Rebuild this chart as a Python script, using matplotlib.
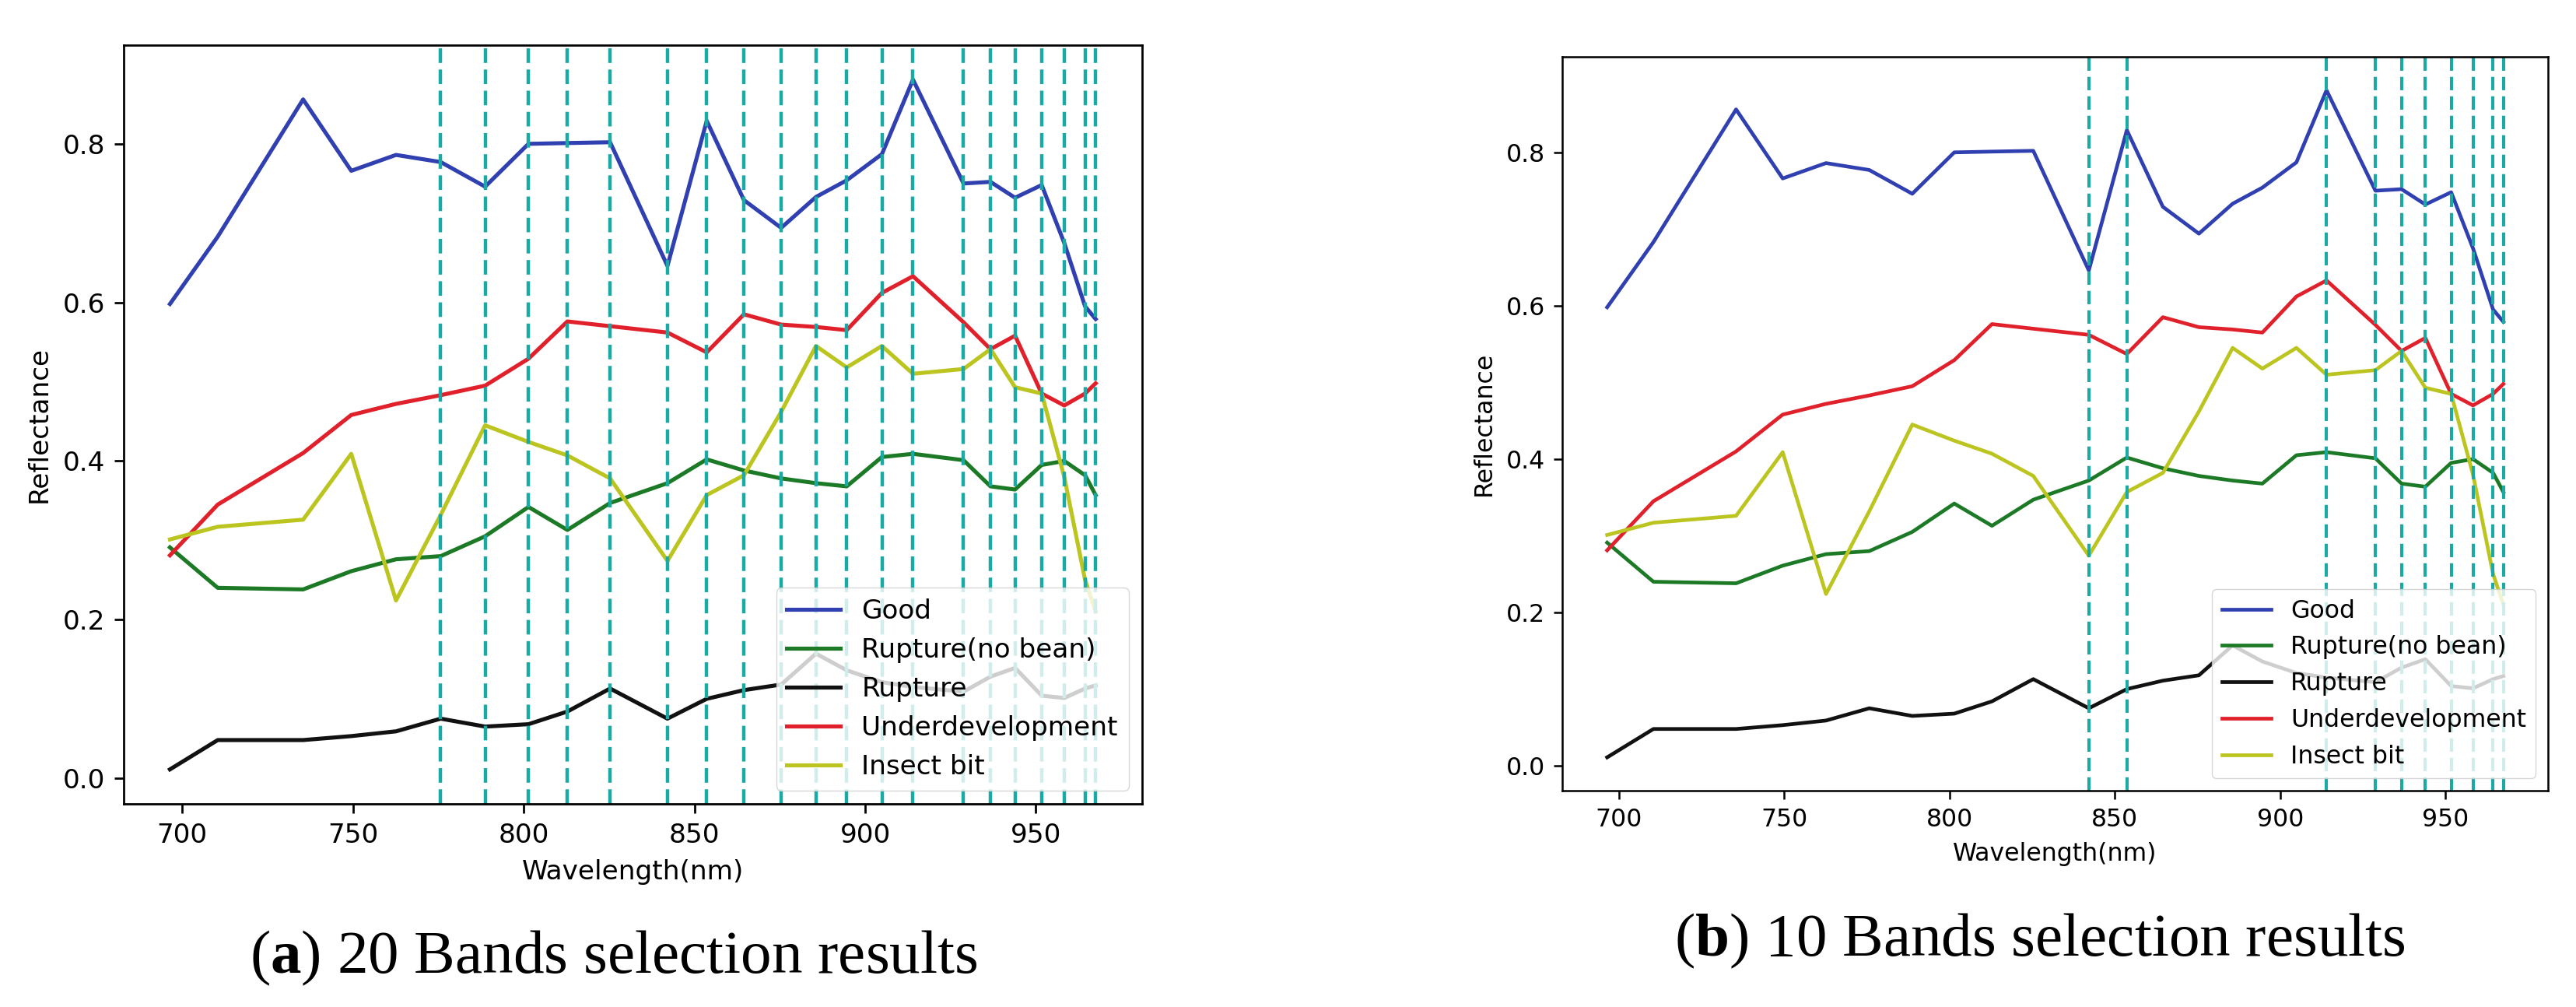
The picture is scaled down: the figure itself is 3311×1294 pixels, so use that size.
import matplotlib
matplotlib.use("Agg")
import matplotlib.pyplot as plt

# band centre wavelengths (nm)
wavelengths = [696.4, 710.4, 735.4, 749.5, 762.6, 775.7, 788.7, 801.4, 812.8, 825.3,
               842.1, 853.6, 864.5, 875.4, 885.6, 894.6, 904.9, 914.0, 928.8, 936.7,
               943.9, 951.7, 958.3, 964.4, 967.5]

# mean reflectance per class
good = [0.598, 0.683, 0.856, 0.766, 0.786, 0.777, 0.746, 0.800, 0.801, 0.802,
        0.646, 0.829, 0.729, 0.694, 0.733, 0.754, 0.787, 0.881, 0.750, 0.752,
        0.732, 0.748, 0.675, 0.595, 0.579]
rupture_no_bean = [0.291, 0.240, 0.238, 0.261, 0.276, 0.280, 0.305, 0.342, 0.313, 0.347,
                   0.372, 0.402, 0.388, 0.378, 0.372, 0.368, 0.405, 0.409, 0.401, 0.368,
                   0.364, 0.395, 0.400, 0.382, 0.357]
rupture = [0.011, 0.048, 0.048, 0.053, 0.059, 0.075, 0.065, 0.068, 0.084, 0.113,
           0.075, 0.100, 0.111, 0.118, 0.157, 0.136, 0.121, 0.115, 0.109, 0.128,
           0.139, 0.104, 0.101, 0.113, 0.117]
underdevelopment = [0.281, 0.345, 0.410, 0.458, 0.472, 0.483, 0.495, 0.529, 0.576, 0.570,
                    0.562, 0.537, 0.585, 0.572, 0.569, 0.565, 0.612, 0.633, 0.575, 0.541,
                    0.558, 0.485, 0.470, 0.485, 0.498]
insect_bit = [0.301, 0.317, 0.326, 0.409, 0.224, 0.332, 0.445, 0.424, 0.407, 0.378,
              0.274, 0.357, 0.382, 0.462, 0.545, 0.518, 0.545, 0.510, 0.516, 0.541,
              0.493, 0.485, 0.380, 0.250, 0.210]

# selected bands
bands_20 = [775.7, 788.7, 801.4, 812.8, 825.3, 842.1, 853.6, 864.5, 875.4, 885.6,
            894.6, 904.9, 914.0, 928.8, 936.7, 943.9, 951.7, 958.3, 964.4, 967.5]
bands_10 = [842.1, 853.6, 914.0, 928.8, 936.7, 943.9, 951.7, 958.3, 964.4, 967.5]

series = [("Good", good, "#3040b0"),
          ("Rupture(no bean)", rupture_no_bean, "#1c7a26"),
          ("Rupture", rupture, "#111111"),
          ("Underdevelopment", underdevelopment, "#e0202a"),
          ("Insect bit", insect_bit, "#bcc520")]

plt.rcParams['mathtext.fontset'] = 'custom'
plt.rcParams['mathtext.rm'] = 'Liberation Serif'
plt.rcParams['mathtext.bf'] = 'Liberation Serif:bold'

fig = plt.figure(figsize=(33.11, 12.94), dpi=100)


def draw_panel(ax, bands, s):
    # s = scale factor relative to matplotlib defaults
    for name, vals, col in series:
        ax.plot(wavelengths, vals, color=col, lw=1.5 * s, label=name)
    for b in bands:
        ax.axvline(b, color="#19aaa5", ls="--", lw=1.3 * s, dashes=(4.2, 1.9))
    ax.set_xlabel("Wavelength(nm)", fontsize=10 * s, labelpad=4 * s)
    ax.set_ylabel("Reflectance", fontsize=10 * s, labelpad=4 * s)
    ax.set_xticks([700, 750, 800, 850, 900, 950])
    ax.set_yticks([0.0, 0.2, 0.4, 0.6, 0.8])
    ax.tick_params(labelsize=10 * s, length=3.5 * s, width=0.8 * s, pad=3.5 * s)
    for sp in ax.spines.values():
        sp.set_linewidth(0.8 * s)
    ax.legend(loc="lower right", fontsize=10 * s)


axL = fig.add_axes([0.0480, 0.2017, 0.3953, 0.7535])
draw_panel(axL, bands_20, 2.47)

axR = fig.add_axes([0.6065, 0.2148, 0.3827, 0.7287])
draw_panel(axR, bands_10, 2.27)

fig.text(0.2383, 0.034, r"($\mathbf{a}$) 20 Bands selection results",
         family="Liberation Serif", fontsize=57, ha="center", va="baseline")
fig.text(0.7919, 0.051, r"($\mathbf{b}$) 10 Bands selection results",
         family="Liberation Serif", fontsize=57, ha="center", va="baseline")

fig.savefig("out.png", dpi=100)
